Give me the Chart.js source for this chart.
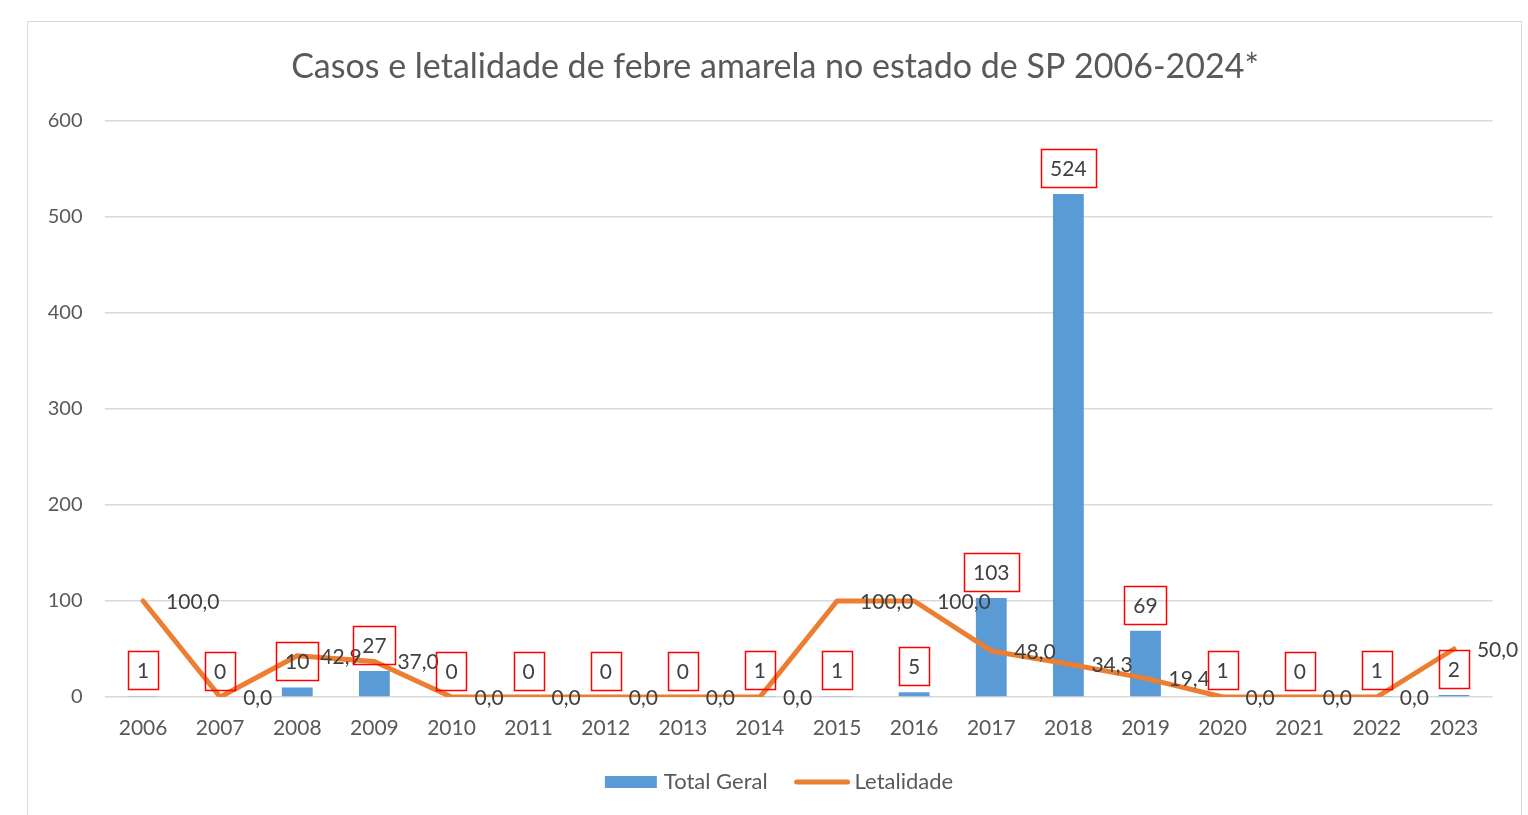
<!DOCTYPE html>
<html><head><meta charset="utf-8">
<script src="https://cdn.jsdelivr.net/npm/chart.js@4.4.1/dist/chart.umd.min.js"></script>
<style>
html,body{margin:0;padding:0;background:#fff;overflow:hidden}
#wrap{position:relative;width:1528px;height:815px}
#frame{position:absolute;left:27px;top:21px;width:1493px;height:820px;border:1.5px solid #d9d9d9}
canvas{position:absolute;left:0;top:0}
</style></head><body>
<div id="wrap"><div id="frame"></div><canvas id="c" width="1528" height="815"></canvas></div>
<script>
const years = ['2006','2007','2008','2009','2010','2011','2012','2013','2014','2015','2016','2017','2018','2019','2020','2021','2022','2023'];
const totalGeral = [1,0,10,27,0,0,0,0,1,1,5,103,524,69,1,0,1,2];
const letalidade = [100.0,0.0,42.9,37.0,0.0,0.0,0.0,0.0,0.0,100.0,100.0,48.0,34.3,19.4,0.0,0.0,0.0,50.0];
const yTicks = [0,100,200,300,400,500,600];
const seriesNames = ['Total Geral','Letalidade'];
const titleText = 'Casos e letalidade de febre amarela no estado de SP 2006-2024*';

const BLUE = '#5B9BD5', ORANGE = '#ED7D31', AXIS = '#595959', LBL = '#404040';
const FONT = 'Lato, "Open Sans", sans-serif';
const fmt = v => v.toFixed(1).replace('.', ',');

const labelPlugin = {
  id: 'labelPlugin',
  afterDatasetsDraw(chart) {
    const ctx = chart.ctx;
    ctx.save();
    ctx.font = '21px ' + FONT;
    ctx.textBaseline = 'middle';
    // line labels
    const lm = chart.getDatasetMeta(1);
    lm.data.forEach((pt, i) => {
      ctx.fillStyle = LBL;
      ctx.textAlign = 'left';
      ctx.fillText(fmt(letalidade[i]), pt.x + 23, pt.y + 1);
    });
    // bar labels in red boxes
    const bm = chart.getDatasetMeta(0);
    bm.data.forEach((bar, i) => {
      const t = String(totalGeral[i]);
      const w = ctx.measureText(t).width + 18;
      const h = 38;
      const bottom = bar.y - 7;
      const top = bottom - h;
      ctx.strokeStyle = '#FF0000';
      ctx.lineWidth = 1.5;
      ctx.strokeRect(Math.round(bar.x - w / 2) + 0.5, Math.round(top) + 0.5, Math.round(w), h);
      ctx.fillStyle = LBL;
      ctx.textAlign = 'center';
      ctx.fillText(t, bar.x, top + h / 2 + 1);
    });
    ctx.restore();
  },
  afterDraw(chart) {
    const ctx = chart.ctx;
    ctx.save();
    // title, centred in the frame
    ctx.font = '34px ' + FONT;
    ctx.fillStyle = AXIS;
    ctx.textAlign = 'center';
    ctx.textBaseline = 'middle';
    ctx.fillText(titleText, 775, 67);
    // legend
    ctx.font = '22px ' + FONT;
    ctx.textAlign = 'left';
    const w1 = ctx.measureText(seriesNames[0]).width;
    const w2 = ctx.measureText(seriesNames[1]).width;
    const total = 52 + 7 + w1 + 27 + 55 + 5 + w2;
    let x = 779 - total / 2;
    const y = 782;
    ctx.fillStyle = BLUE;
    ctx.fillRect(x, y - 6, 52, 12);
    x += 52 + 7;
    ctx.fillStyle = AXIS;
    ctx.fillText(seriesNames[0], x, y);
    x += w1 + 27;
    ctx.strokeStyle = ORANGE;
    ctx.lineWidth = 5;
    ctx.lineCap = 'round';
    ctx.beginPath();
    ctx.moveTo(x + 2, y);
    ctx.lineTo(x + 53, y);
    ctx.stroke();
    x += 55 + 5;
    ctx.fillText(seriesNames[1], x, y);
    ctx.restore();
  }
};

new Chart(document.getElementById('c'), {
  data: {
    labels: years,
    datasets: [
      { type: 'bar', label: seriesNames[0], data: totalGeral, backgroundColor: BLUE,
        barPercentage: 0.4, categoryPercentage: 1.0, order: 2 },
      { type: 'line', label: seriesNames[1], data: letalidade, borderColor: ORANGE,
        borderWidth: 5, pointRadius: 0, tension: 0, fill: false, order: 1,
        borderCapStyle: 'round', borderJoinStyle: 'round' }
    ]
  },
  options: {
    responsive: false,
    devicePixelRatio: 1,
    animation: false,
    layout: { padding: { left: 28, right: 35.5, top: 121, bottom: 68 } },
    plugins: {
      legend: { display: false },
      tooltip: { enabled: false },
      title: { display: false }
    },
    scales: {
      x: {
        grid: { display: false, drawTicks: false },
        border: { display: false },
        ticks: { color: AXIS, font: { family: FONT, size: 21 }, padding: 19, maxRotation: 0, autoSkip: false },
        afterFit(s) { s.height = 50; }
      },
      y: {
        min: 0, max: 600,
        afterBuildTicks(s) { s.ticks = yTicks.map(v => ({ value: v })); },
        grid: { color: '#d9d9d9', lineWidth: 1.5, drawTicks: false },
        border: { display: false },
        ticks: { color: AXIS, font: { family: FONT, size: 20 }, padding: 22 },
        afterFit(s) { s.width = 76.5; }
      }
    }
  },
  plugins: [labelPlugin]
});
</script>
</body></html>
